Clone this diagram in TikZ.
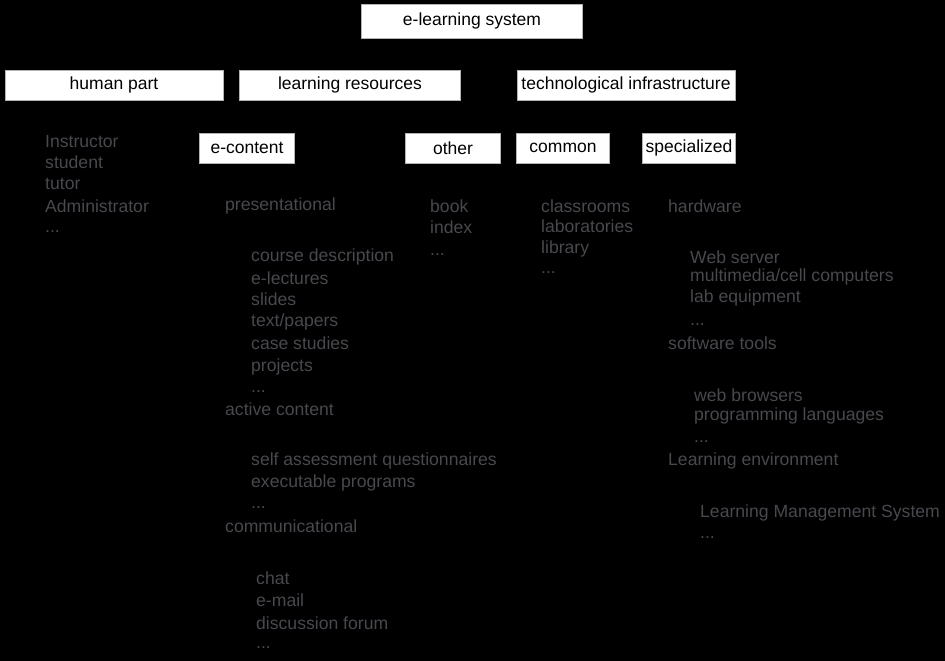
\documentclass[tikz,border=0pt]{standalone}
\usepackage{fontspec}
\setmainfont{Liberation Sans}
\usetikzlibrary{positioning}

\definecolor{itemgray}{RGB}{72,72,78}

\tikzset{
  box/.style={draw=gray!60, fill=white, text=black, inner sep=0pt,
    minimum height=30, font=\fontsize{17.5}{20}\selectfont},
  item/.style={anchor=west, inner sep=0pt, text=itemgray,
    font=\fontsize{17.6}{20}\selectfont}
}

\begin{document}
\begin{tikzpicture}[x=1pt,y=-1pt]

        % ===================================================
        % Background
        % ===================================================
        \fill[black] (0,0) rectangle (945,661);
        \useasboundingbox (0,0) rectangle (945,661);

        % ===================================================
        % Boxes
        % ===================================================
        \node[box, minimum width=221, minimum height=34] (sys) at (472,21) {e-learning system};

        \node[box, minimum width=218] (human) at (114,85) {human part};
        \node[box, minimum width=221] (res) at (350,85) {learning resources};
        \node[box, minimum width=218] (tech) at (626,85) {technological infrastructure};

        \node[box, minimum width=95] (econt) at (247,148) {e-content};
        \node[box, minimum width=95] (other) at (453,148) {other};
        \node[box, minimum width=93] (common) at (563,148) {common};
        \node[box, minimum width=93] (spec) at (689,148) {specialized};

        % ===================================================
        % Human part
        % ===================================================
        \node[item] (instr) at (45,142) {Instructor};
        \node[item] (stud) at (45,162) {student};
        \node[item] (tutor) at (45,184) {tutor};
        \node[item] (admin) at (45,206) {Administrator};
        \node[item] (hpdots) at (45,232) {...};

        % ===================================================
        % e-content
        % ===================================================
        \node[item] (pres) at (225,206) {presentational};
        \node[item] (cdesc) at (251,257) {course description};
        \node[item] (elect) at (251,278) {e-lectures};
        \node[item] (slides) at (251,299) {slides};
        \node[item] (texts) at (251,322) {text/papers};
        \node[item] (cases) at (251,343) {case studies};
        \node[item] (proj) at (251,367) {projects};
        \node[item] (presdots) at (251,392) {...};

        \node[item] (active) at (225,409) {active content};
        \node[item] (selfa) at (251,461) {self assessment questionnaires};
        \node[item] (exec) at (251,483) {executable programs};
        \node[item] (actdots) at (251,508) {...};

        \node[item] (comm) at (225,526) {communicational};
        \node[item] (chat) at (256,578) {chat};
        \node[item] (email) at (256,600) {e-mail};
        \node[item] (forum) at (256,623) {discussion forum};
        \node[item] (commdots) at (256,648) {...};

        % ===================================================
        % other / common
        % ===================================================
        \node[item] (book) at (430,206) {book};
        \node[item] (index) at (430,227) {index};
        \node[item] (othdots) at (430,255) {...};

        \node[item] (class) at (541,206) {classrooms};
        \node[item] (labs) at (541,226) {laboratories};
        \node[item] (lib) at (541,249) {library};
        \node[item] (comdots) at (541,273) {...};

        % ===================================================
        % specialized
        % ===================================================
        \node[item] (hard) at (668,206) {hardware};
        \node[item] (web) at (690,257) {Web server};
        \node[item] (mmedia) at (690,277) {multimedia/cell computers};
        \node[item] (labeq) at (690,298) {lab equipment};
        \node[item] (hwdots) at (690,325) {...};

        \node[item] (soft) at (668,343) {software tools};
        \node[item] (brows) at (694,395) {web browsers};
        \node[item] (plang) at (694,416) {programming languages};
        \node[item] (swdots) at (694,442) {...};

        \node[item] (lenv) at (668,461) {Learning environment};
        \node[item] (lms) at (700,513) {Learning Management System};
        \node[item] (lmsdots) at (700,538) {...};

    \end{tikzpicture}
\end{document}
